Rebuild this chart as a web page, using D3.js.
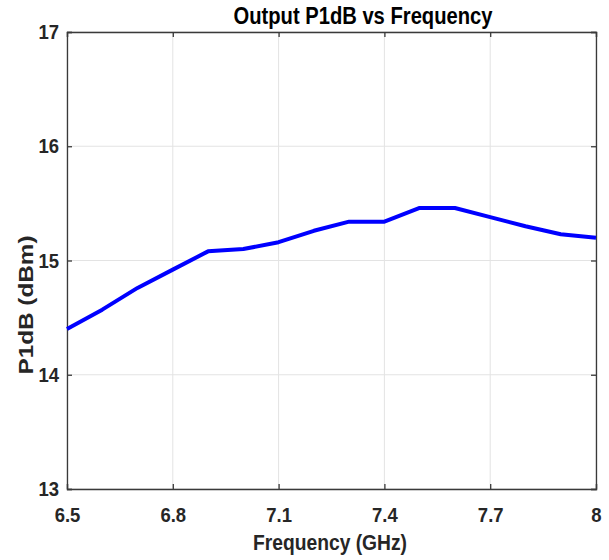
<!DOCTYPE html>
<html>
<head>
<meta charset="utf-8">
<script src="https://cdn.jsdelivr.net/npm/d3@7"></script>
<style>
  body { margin: 0; background: #fff; }
  text { font-family: "Liberation Sans", Arial, sans-serif; font-weight: bold; fill: #262626; }
</style>
</head>
<body>
<div class="chart"></div>
<script>
// frequency points (GHz) and measured output P1dB (dBm)
const freq = [6.5, 6.6, 6.7, 6.8, 6.9, 7.0, 7.1, 7.2, 7.3, 7.4, 7.5, 7.6, 7.7, 7.8, 7.9, 8.0];
const p1db = [14.4, 14.57, 14.76, 14.92, 15.08, 15.1, 15.16, 15.26, 15.34, 15.34, 15.46, 15.46, 15.38, 15.3, 15.23, 15.2];
const xTicks = [6.5, 6.8, 7.1, 7.4, 7.7, 8];
const yTicks = [13, 14, 15, 16, 17];

const width = 609;
const height = 560;
const padL = 67, padR = 596, padT = 32, padB = 489;

const svg = d3
  .select(".chart")
  .append("svg")
  .attr("width", width)
  .attr("height", height);

const x = d3.scaleLinear().domain([6.5, 8]).range([padL, padR]);
const y = d3.scaleLinear().domain([13, 17]).range([padB, padT]);

// grid
svg.selectAll("line.gx")
  .data(xTicks)
  .enter()
  .append("line")
  .attr("x1", (d) => x(d))
  .attr("x2", (d) => x(d))
  .attr("y1", padT)
  .attr("y2", padB)
  .attr("stroke", "#e3e3e3")
  .attr("stroke-width", 1);

svg.selectAll("line.gy")
  .data(yTicks)
  .enter()
  .append("line")
  .attr("x1", padL)
  .attr("x2", padR)
  .attr("y1", (d) => y(d))
  .attr("y2", (d) => y(d))
  .attr("stroke", "#e3e3e3")
  .attr("stroke-width", 1);

// axes, ticks drawn inward like matlab
const xAxis = svg.append("g")
  .attr("transform", `translate(0,${padB})`)
  .call(d3.axisBottom(x).tickValues(xTicks).tickSize(-5).tickPadding(18).tickFormat(d3.format("")));
const xTop = svg.append("g")
  .attr("transform", `translate(0,${padT})`)
  .call(d3.axisTop(x).tickValues(xTicks).tickSize(-5).tickFormat(""));
const yAxis = svg.append("g")
  .attr("transform", `translate(${padL},0)`)
  .call(d3.axisLeft(y).tickValues(yTicks).tickSize(-5).tickPadding(9).tickFormat(d3.format("d")));
const yRight = svg.append("g")
  .attr("transform", `translate(${padR},0)`)
  .call(d3.axisRight(y).tickValues(yTicks).tickSize(-5).tickFormat(""));

[xAxis, xTop, yAxis, yRight].forEach((g) => {
  g.select(".domain").attr("stroke", "#3a3a3a").attr("stroke-width", 1.3);
  g.selectAll(".tick line").attr("stroke", "#3a3a3a").attr("stroke-width", 1.3);
});
// narrow the tick labels a bit (reference font is condensed)
[xAxis, yAxis].forEach((g) => {
  g.selectAll(".tick text")
    .attr("font-size", 21)
    .attr("transform", "scale(0.88,1)")
    .style("fill", "#262626");
});

// data line
const line = d3.line()
  .x((d, i) => x(freq[i]))
  .y((d) => y(d));

svg.append("path")
  .datum(p1db)
  .attr("d", line)
  .attr("fill", "none")
  .attr("stroke", "#0000ff")
  .attr("stroke-width", 4)
  .attr("stroke-linejoin", "round");

// titles
svg.append("text")
  .attr("x", 363)
  .attr("y", 24)
  .attr("text-anchor", "middle")
  .attr("font-size", 24)
  .attr("textLength", 259)
  .attr("lengthAdjust", "spacingAndGlyphs")
  .style("fill", "#000")
  .text("Output P1dB vs Frequency");

svg.append("text")
  .attr("x", 330)
  .attr("y", 550)
  .attr("text-anchor", "middle")
  .attr("font-size", 22)
  .attr("textLength", 154)
  .attr("lengthAdjust", "spacingAndGlyphs")
  .text("Frequency (GHz)");

svg.append("text")
  .attr("transform", "translate(33,305) rotate(-90)")
  .attr("text-anchor", "middle")
  .attr("font-size", 20)
  .attr("textLength", 139)
  .attr("lengthAdjust", "spacingAndGlyphs")
  .text("P1dB (dBm)");
</script>
</body>
</html>
